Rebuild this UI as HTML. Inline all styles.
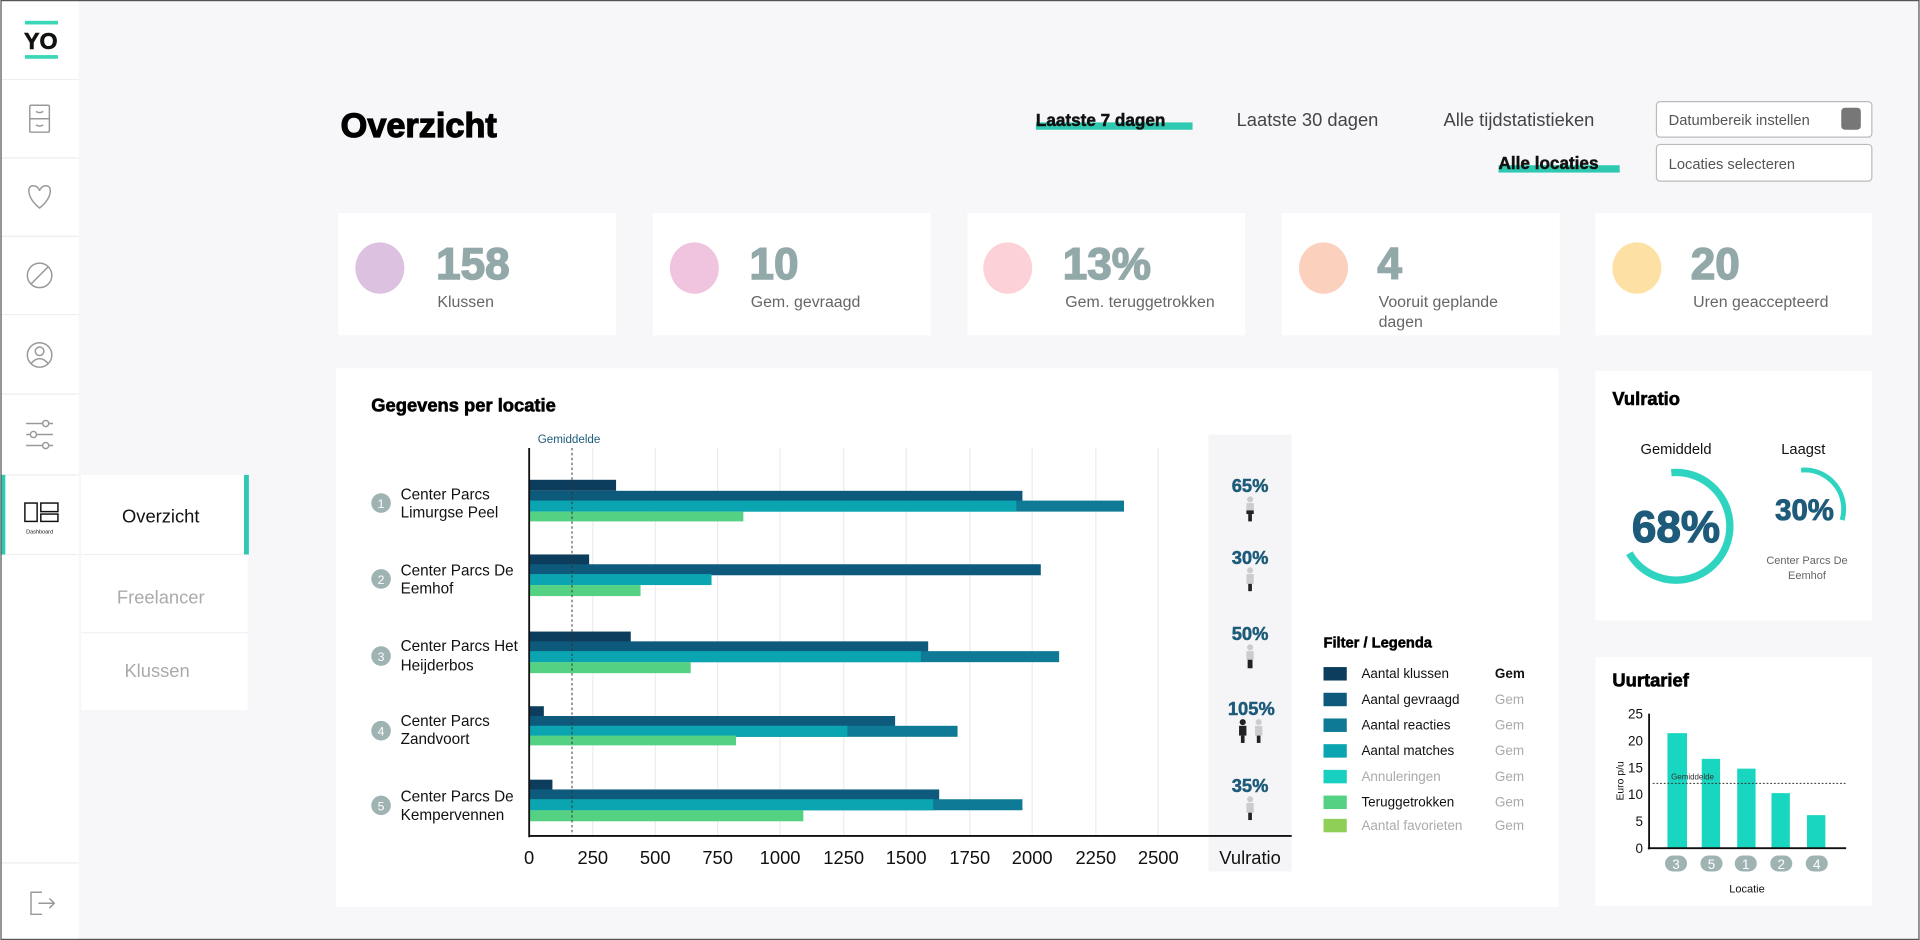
<!DOCTYPE html>
<html><head><meta charset="utf-8"><style>
html,body{margin:0;padding:0;background:#f7f7fa;}
svg{display:block;font-family:"Liberation Sans",sans-serif;}
</style></head><body>
<svg width="1920" height="940" viewBox="0 0 1568 768" xmlns="http://www.w3.org/2000/svg">
<rect x="0" y="0" width="1568" height="768" fill="#f7f7fa"/>
<!-- sidebar -->
<rect x="0" y="0" width="64" height="768" fill="#fff"/>
<g stroke="#eeeef2" stroke-width="1">
<line x1="0" y1="65" x2="64" y2="65"/><line x1="0" y1="129" x2="64" y2="129"/><line x1="0" y1="193" x2="64" y2="193"/><line x1="0" y1="257" x2="64" y2="257"/><line x1="0" y1="322" x2="64" y2="322"/><line x1="0" y1="388" x2="64" y2="388"/><line x1="0" y1="453" x2="64" y2="453"/><line x1="0" y1="705" x2="64" y2="705"/>
</g>
<rect x="20" y="17" width="27" height="3" fill="#3ad6b8"/>
<rect x="20" y="45" width="27" height="3" fill="#3ad6b8"/>
<text x="33" y="40" font-size="19" font-weight="bold" text-anchor="middle" fill="#111" stroke="#111" stroke-width="0.5">YO</text>
<g fill="none" stroke="#999" stroke-width="1.2">
<rect x="24" y="86" width="16" height="22" rx="1"/><line x1="24" y1="97" x2="40" y2="97"/>
<path d="M29 91 q3 2 6 0 M29 102 q3 2 6 0"/>
<path d="M32 170 C20 160 22 150 28 152 C30 152 32 155 32 156 C32 155 34 152 36 152 C42 150 44 160 32 170 Z"/>
<circle cx="32" cy="225" r="10"/><line x1="25" y1="232" x2="39" y2="218"/>
<circle cx="32" cy="290" r="10"/><circle cx="32" cy="287" r="3.5"/><path d="M25 297 q7 -8 14 0"/>
<line x1="21" y1="346" x2="43" y2="346"/><line x1="21" y1="355" x2="43" y2="355"/><line x1="21" y1="364" x2="43" y2="364"/>
<circle cx="37" cy="346" r="2.5" fill="#fff"/><circle cx="27" cy="355" r="2.5" fill="#fff"/><circle cx="37" cy="364" r="2.5" fill="#fff"/>
<path d="M34 729 h-9 v18 h9 M31 738 h13 M40 734 l4 4 l-4 4"/>
</g>
<rect x="0" y="388" width="4" height="65" fill="#2ec9b0"/>
<g fill="none" stroke="#111" stroke-width="1.2">
<rect x="20" y="411" width="10" height="15"/><rect x="33" y="411" width="14" height="7"/><rect x="33" y="420" width="14" height="6"/>
</g>
<text x="32" y="436" font-size="4.5" text-anchor="middle" fill="#111">Dashboard</text>
<!-- submenu -->
<rect x="66" y="388" width="136" height="192" fill="#fff"/>
<line x1="66" y1="453" x2="202" y2="453" stroke="#f0f0f3"/><line x1="66" y1="517" x2="202" y2="517" stroke="#f0f0f3"/>
<rect x="199" y="388" width="4" height="65" fill="#2ec9b0"/>
<text x="131" y="427" font-size="15" text-anchor="middle" fill="#111">Overzicht</text>
<text x="131" y="493" font-size="15" text-anchor="middle" fill="#aaa">Freelancer</text>
<text x="128" y="553" font-size="15" text-anchor="middle" fill="#aaa">Klussen</text>
<!-- header -->
<text x="278" y="112" font-size="28" font-weight="900" fill="#000" stroke="#000" stroke-width="1">Overzicht</text>
<rect x="846" y="100" width="128" height="6" fill="#2ec9b0"/>
<text x="846" y="103" font-size="14" font-weight="bold" fill="#111" stroke="#111" stroke-width="0.4">Laatste 7 dagen</text>
<text x="1010" y="103" font-size="15" fill="#444">Laatste 30 dagen</text>
<text x="1179" y="103" font-size="15" fill="#444">Alle tijdstatistieken</text>
<rect x="1353" y="83" width="176" height="29" rx="3" fill="#fff" stroke="#bbb"/>
<text x="1363" y="102" font-size="12" fill="#555">Datumbereik instellen</text>
<rect x="1504" y="88" width="16" height="18" rx="3" fill="#777"/>
<rect x="1224" y="135" width="99" height="6" fill="#2ec9b0"/>
<text x="1224" y="138" font-size="14" font-weight="bold" fill="#111" stroke="#111" stroke-width="0.4">Alle locaties</text>
<rect x="1353" y="118" width="176" height="30" rx="3" fill="#fff" stroke="#bbb"/>
<text x="1363" y="138" font-size="12" fill="#555">Locaties selecteren</text>
<!-- stat cards -->
<g>
<rect x="276" y="174" width="227" height="100" fill="#fff"/>
<rect x="533" y="174" width="227" height="100" fill="#fff"/>
<rect x="790" y="174" width="227" height="100" fill="#fff"/>
<rect x="1047" y="174" width="227" height="100" fill="#fff"/>
<rect x="1303" y="174" width="226" height="100" fill="#fff"/>
<ellipse cx="310" cy="219" rx="20" ry="21" fill="#dcc1e0"/>
<ellipse cx="567" cy="219" rx="20" ry="21" fill="#f0c4de"/>
<ellipse cx="823" cy="219" rx="20" ry="21" fill="#fcd1d8"/>
<ellipse cx="1081" cy="219" rx="20" ry="21" fill="#fbd0bc"/>
<ellipse cx="1337" cy="219" rx="20" ry="21" fill="#fde0a4"/>
<g font-size="36" font-weight="900" fill="#93a9a9" stroke="#93a9a9" stroke-width="1.2">
<text x="356" y="228">158</text><text x="612" y="228">10</text><text x="868" y="228">13%</text><text x="1125" y="228">4</text><text x="1381" y="228">20</text>
</g>
<g font-size="13" fill="#666">
<text x="357" y="251">Klussen</text><text x="613" y="251">Gem. gevraagd</text><text x="870" y="251">Gem. teruggetrokken</text>
<text x="1126" y="251">Vooruit geplande</text><text x="1126" y="267">dagen</text><text x="1383" y="251">Uren geaccepteerd</text>
</g>
</g>
<!-- main chart card -->
<rect x="274" y="301" width="999" height="440" fill="#fff"/>
<text x="303" y="336" font-size="15" font-weight="900" fill="#000" stroke="#000" stroke-width="0.5">Gegevens per locatie</text>
<rect x="987" y="355" width="68" height="357" fill="#f5f5f7"/>
<g stroke="#ececef" stroke-width="1">
<line x1="484" y1="366" x2="484" y2="683"/><line x1="535" y1="366" x2="535" y2="683"/><line x1="586" y1="366" x2="586" y2="683"/><line x1="637" y1="366" x2="637" y2="683"/><line x1="689" y1="366" x2="689" y2="683"/><line x1="740" y1="366" x2="740" y2="683"/><line x1="792" y1="366" x2="792" y2="683"/><line x1="843" y1="366" x2="843" y2="683"/><line x1="895" y1="366" x2="895" y2="683"/><line x1="946" y1="366" x2="946" y2="683"/>
</g>
<text x="439" y="362" font-size="9.5" fill="#1e5b7a">Gemiddelde</text>
<!-- bars -->
<g>
<rect x="432" y="392" width="71" height="9" fill="#0d3d5c"/>
<rect x="432" y="401" width="403" height="9" fill="#0e5a7c"/>
<rect x="432" y="409" width="486" height="9" fill="#0f7a95"/>
<rect x="432" y="409" width="398" height="9" fill="#0aa5b0"/>
<rect x="432" y="418" width="175" height="8" fill="#55d184"/>
<rect x="432" y="453" width="49" height="9" fill="#0d3d5c"/>
<rect x="432" y="461" width="418" height="9" fill="#0e5a7c"/>
<rect x="432" y="469" width="149" height="9" fill="#0aa5b0"/>
<rect x="432" y="478" width="91" height="9" fill="#55d184"/>
<rect x="432" y="516" width="83" height="9" fill="#0d3d5c"/>
<rect x="432" y="524" width="326" height="9" fill="#0e5a7c"/>
<rect x="432" y="532" width="433" height="9" fill="#0f7a95"/>
<rect x="432" y="532" width="320" height="9" fill="#0aa5b0"/>
<rect x="432" y="541" width="132" height="9" fill="#55d184"/>
<rect x="432" y="577" width="12" height="9" fill="#0d3d5c"/>
<rect x="432" y="585" width="299" height="9" fill="#0e5a7c"/>
<rect x="432" y="593" width="350" height="9" fill="#0f7a95"/>
<rect x="432" y="593" width="260" height="9" fill="#0aa5b0"/>
<rect x="432" y="601" width="169" height="8" fill="#55d184"/>
<rect x="432" y="637" width="19" height="9" fill="#0d3d5c"/>
<rect x="432" y="645" width="335" height="9" fill="#0e5a7c"/>
<rect x="432" y="653" width="403" height="9" fill="#0f7a95"/>
<rect x="432" y="653" width="330" height="9" fill="#0aa5b0"/>
<rect x="432" y="662" width="224" height="9" fill="#55d184"/>
</g>
<line x1="467" y1="366" x2="467" y2="683" stroke="#333" stroke-width="0.8" stroke-dasharray="2,2"/>
<line x1="432" y1="366" x2="432" y2="684" stroke="#111" stroke-width="1.5"/>
<line x1="432" y1="683" x2="1055" y2="683" stroke="#111" stroke-width="1.5"/>
<g font-size="15" fill="#111" text-anchor="middle">
<text x="432" y="706">0</text><text x="484" y="706">250</text><text x="535" y="706">500</text><text x="586" y="706">750</text><text x="637" y="706">1000</text><text x="689" y="706">1250</text><text x="740" y="706">1500</text><text x="792" y="706">1750</text><text x="843" y="706">2000</text><text x="895" y="706">2250</text><text x="946" y="706">2500</text><text x="1021" y="706">Vulratio</text>
</g>
<g font-size="12.5" fill="#111">
<circle cx="311" cy="411" r="8" fill="#9fb3b3"/><text x="311" y="415" font-size="10" fill="#fff" text-anchor="middle">1</text>
<text x="327" y="408">Center Parcs</text><text x="327" y="423">Limurgse Peel</text>
<circle cx="311" cy="473" r="8" fill="#9fb3b3"/><text x="311" y="477" font-size="10" fill="#fff" text-anchor="middle">2</text>
<text x="327" y="470">Center Parcs De</text><text x="327" y="485">Eemhof</text>
<circle cx="311" cy="536" r="8" fill="#9fb3b3"/><text x="311" y="540" font-size="10" fill="#fff" text-anchor="middle">3</text>
<text x="327" y="532">Center Parcs Het</text><text x="327" y="548">Heijderbos</text>
<circle cx="311" cy="597" r="8" fill="#9fb3b3"/><text x="311" y="601" font-size="10" fill="#fff" text-anchor="middle">4</text>
<text x="327" y="593">Center Parcs</text><text x="327" y="608">Zandvoort</text>
<circle cx="311" cy="658" r="8" fill="#9fb3b3"/><text x="311" y="662" font-size="10" fill="#fff" text-anchor="middle">5</text>
<text x="327" y="655">Center Parcs De</text><text x="327" y="670">Kempervennen</text>
</g>
<g font-size="15" font-weight="900" fill="#1e5b7a" text-anchor="middle" stroke="#1e5b7a" stroke-width="0.4">
<text x="1021" y="402">65%</text><text x="1021" y="461">30%</text><text x="1021" y="523">50%</text><text x="1022" y="584">105%</text><text x="1021" y="647">35%</text>
</g>
<g>
<circle cx="1021" cy="408" r="2.5" fill="#ccc"/><rect x="1018" y="411" width="6" height="6" fill="#ccc"/><rect x="1018" y="417" width="6" height="3" fill="#222"/><rect x="1019.5" y="420" width="3" height="6" fill="#222"/>
<circle cx="1021" cy="466" r="2.5" fill="#ccc"/><rect x="1018" y="469" width="6" height="8" fill="#ccc"/><rect x="1019.5" y="477" width="3" height="6" fill="#222"/>
<circle cx="1021" cy="529" r="2.5" fill="#ccc"/><rect x="1018" y="532" width="6" height="7" fill="#ccc"/><rect x="1019" y="539" width="4" height="7" fill="#222"/>
<circle cx="1015" cy="590" r="2.5" fill="#222"/><rect x="1012" y="593" width="6" height="8" fill="#222"/><rect x="1013.5" y="601" width="3" height="6" fill="#222"/>
<circle cx="1028" cy="590" r="2.5" fill="#ccc"/><rect x="1025" y="593" width="6" height="8" fill="#ccc"/><rect x="1026.5" y="601" width="3" height="6" fill="#222"/>
<circle cx="1021" cy="653" r="2.5" fill="#ccc"/><rect x="1018" y="656" width="6" height="8" fill="#ccc"/><rect x="1019.5" y="664" width="3" height="6" fill="#222"/>
</g>
<text x="1081" y="529" font-size="12" font-weight="900" fill="#000" stroke="#000" stroke-width="0.4">Filter / Legenda</text>
<g font-size="11">
<rect x="1081" y="545" width="19" height="11" fill="#0d3d5c"/><text x="1112" y="554" fill="#111">Aantal klussen</text><text x="1221" y="554" fill="#111" font-weight="bold">Gem</text>
<rect x="1081" y="566" width="19" height="11" fill="#0e5a7c"/><text x="1112" y="575" fill="#111">Aantal gevraagd</text><text x="1221" y="575" fill="#aaa">Gem</text>
<rect x="1081" y="587" width="19" height="11" fill="#0f7a95"/><text x="1112" y="596" fill="#111">Aantal reacties</text><text x="1221" y="596" fill="#aaa">Gem</text>
<rect x="1081" y="608" width="19" height="11" fill="#0aa5b0"/><text x="1112" y="617" fill="#111">Aantal matches</text><text x="1221" y="617" fill="#aaa">Gem</text>
<rect x="1081" y="629" width="19" height="11" fill="#18d0bf"/><text x="1112" y="638" fill="#aaa">Annuleringen</text><text x="1221" y="638" fill="#aaa">Gem</text>
<rect x="1081" y="650" width="19" height="11" fill="#55d184"/><text x="1112" y="659" fill="#111">Teruggetrokken</text><text x="1221" y="659" fill="#aaa">Gem</text>
<rect x="1081" y="669" width="19" height="11" fill="#8fcf58"/><text x="1112" y="678" fill="#aaa">Aantal favorieten</text><text x="1221" y="678" fill="#aaa">Gem</text>
</g>
<rect x="1303" y="303" width="226" height="204" fill="#fff"/>
<text x="1317" y="331" font-size="15" font-weight="900" fill="#000" stroke="#000" stroke-width="0.5">Vulratio</text>
<text x="1369" y="371" font-size="12" fill="#111" text-anchor="middle">Gemiddeld</text>
<text x="1473" y="371" font-size="12" fill="#111" text-anchor="middle">Laagst</text>
<circle cx="1369" cy="430" r="44" fill="none" stroke="#2ed4c0" stroke-width="6" stroke-dasharray="188 400" transform="rotate(-95 1369 430)"/>
<text x="1369" y="443" font-size="36" font-weight="900" fill="#1e5b7a" text-anchor="middle" stroke="#1e5b7a" stroke-width="1">68%</text>
<circle cx="1474" cy="416" r="32" fill="none" stroke="#2ed4c0" stroke-width="4" stroke-dasharray="62 400" transform="rotate(-95 1474 416)"/>
<text x="1474" y="425" font-size="24" font-weight="900" fill="#1e5b7a" text-anchor="middle" stroke="#1e5b7a" stroke-width="0.7">30%</text>
<text x="1476" y="461" font-size="9" fill="#666" text-anchor="middle">Center Parcs De</text>
<text x="1476" y="473" font-size="9" fill="#666" text-anchor="middle">Eemhof</text>
<rect x="1303" y="537" width="226" height="203" fill="#fff"/>
<text x="1317" y="561" font-size="15" font-weight="900" fill="#000" stroke="#000" stroke-width="0.5">Uurtarief</text>
<g font-size="11" fill="#111" text-anchor="end">
<text x="1342" y="587">25</text><text x="1342" y="609">20</text><text x="1342" y="631">15</text><text x="1342" y="653">10</text><text x="1342" y="675">5</text><text x="1342" y="697">0</text>
</g>
<text transform="translate(1326 638) rotate(-90)" font-size="8.5" fill="#111" text-anchor="middle">Euro p/u</text>
<g fill="#18d6bf">
<rect x="1362" y="599" width="16" height="94"/>
<rect x="1390" y="620" width="15" height="73"/>
<rect x="1419" y="628" width="15" height="65"/>
<rect x="1447" y="648" width="15" height="45"/>
<rect x="1476" y="666" width="15" height="27"/>
</g>
<line x1="1350" y1="640" x2="1508" y2="640" stroke="#333" stroke-width="0.8" stroke-dasharray="1.5,1.5"/>
<text x="1365" y="637" font-size="6.5" fill="#333">Gemiddelde</text>
<line x1="1347" y1="583" x2="1347" y2="694" stroke="#111" stroke-width="1.5"/>
<line x1="1346" y1="693" x2="1508" y2="693" stroke="#111" stroke-width="1.5"/>
<g fill="#9fb3b3"><rect x="1360" y="699" width="18" height="13" rx="6.5"/><rect x="1389" y="699" width="18" height="13" rx="6.5"/><rect x="1417" y="699" width="18" height="13" rx="6.5"/><rect x="1446" y="699" width="18" height="13" rx="6.5"/><rect x="1475" y="699" width="18" height="13" rx="6.5"/></g>
<g font-size="11" fill="#fff" text-anchor="middle"><text x="1369" y="710">3</text><text x="1398" y="710">5</text><text x="1426" y="710">1</text><text x="1455" y="710">2</text><text x="1484" y="710">4</text></g>
<text x="1427" y="729" font-size="9" fill="#111" text-anchor="middle">Locatie</text>
<rect x="0.5" y="0.5" width="1567" height="767" fill="none" stroke="#555" stroke-width="1"/>
</svg>
</body></html>
